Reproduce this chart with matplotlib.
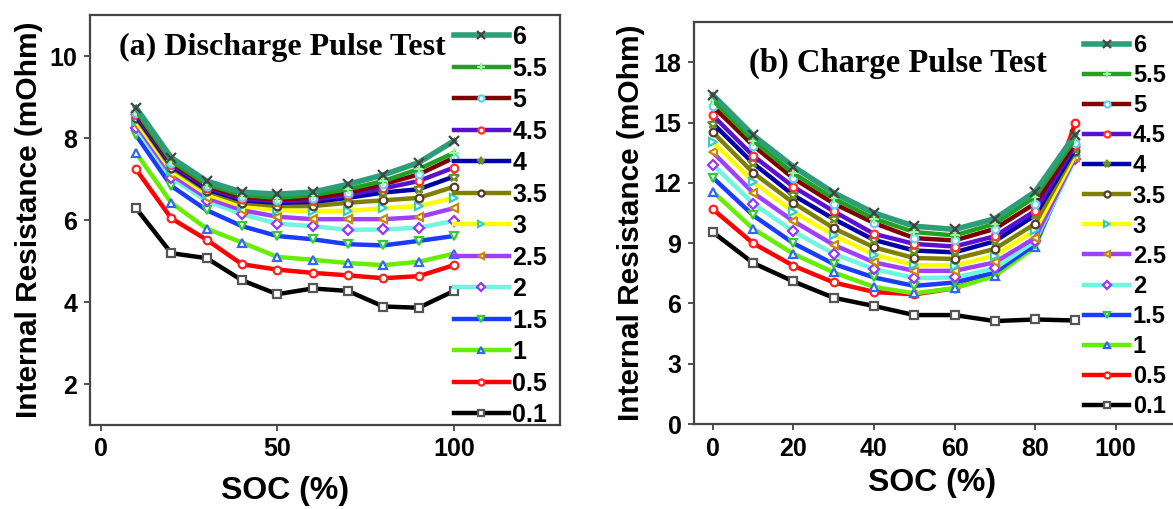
import matplotlib.pyplot as plt

plt.rcParams['font.family'] = 'Liberation Sans'
plt.rcParams['font.weight'] = 'bold'

# pulse currents (legend labels)
labels = ['0.1', '0.5', '1', '1.5', '2', '2.5', '3', '3.5', '4', '4.5', '5', '5.5', '6']

# (a) discharge pulse test
soc_a = [10, 20, 30, 40, 50, 60, 70, 80, 90, 100]
r_dis = [
    [6.29, 5.19, 5.07, 4.53, 4.19, 4.33, 4.27, 3.89, 3.86, 4.27],
    [7.24, 6.04, 5.52, 4.92, 4.79, 4.71, 4.65, 4.58, 4.63, 4.90],
    [7.64, 6.42, 5.79, 5.45, 5.10, 5.03, 4.95, 4.90, 4.98, 5.18],
    [8.07, 6.83, 6.24, 5.85, 5.61, 5.53, 5.41, 5.38, 5.49, 5.61],
    [8.25, 7.03, 6.46, 6.14, 5.91, 5.85, 5.76, 5.77, 5.81, 5.98],
    [8.33, 7.11, 6.54, 6.24, 6.08, 6.02, 6.02, 6.02, 6.07, 6.29],
    [8.41, 7.20, 6.63, 6.34, 6.24, 6.22, 6.22, 6.29, 6.34, 6.54],
    [8.50, 7.28, 6.71, 6.42, 6.34, 6.34, 6.42, 6.48, 6.54, 6.81],
    [8.54, 7.32, 6.75, 6.48, 6.42, 6.44, 6.54, 6.67, 6.75, 7.06],
    [8.58, 7.36, 6.79, 6.52, 6.46, 6.49, 6.61, 6.77, 6.95, 7.28],
    [8.62, 7.40, 6.83, 6.56, 6.50, 6.54, 6.67, 6.87, 7.11, 7.52],
    [8.67, 7.44, 6.87, 6.61, 6.54, 6.61, 6.75, 6.95, 7.24, 7.64],
    [8.74, 7.52, 6.95, 6.68, 6.63, 6.68, 6.87, 7.10, 7.40, 7.93],
]

# (b) charge pulse test
soc_b = [0, 10, 20, 30, 40, 50, 60, 70, 80, 90]
r_chg = [
    [9.54, 8.01, 7.09, 6.28, 5.87, 5.42, 5.42, 5.12, 5.20, 5.15],
    [10.68, 8.99, 7.87, 7.04, 6.57, 6.45, 6.75, 7.50, 9.10, 15.0],
    [11.55, 9.71, 8.46, 7.54, 6.82, 6.50, 6.76, 7.37, 8.80, 13.6],
    [12.25, 10.38, 8.99, 7.96, 7.29, 6.87, 7.04, 7.54, 8.93, 13.4],
    [12.90, 10.97, 9.58, 8.46, 7.71, 7.26, 7.29, 7.74, 9.10, 13.2],
    [13.51, 11.50, 10.09, 8.91, 8.04, 7.62, 7.62, 8.04, 9.26, 13.3],
    [14.03, 12.05, 10.55, 9.39, 8.42, 7.91, 7.88, 8.38, 9.63, 13.4],
    [14.51, 12.50, 11.00, 9.74, 8.79, 8.26, 8.21, 8.71, 9.96, 13.6],
    [14.95, 12.97, 11.38, 10.20, 9.16, 8.63, 8.54, 9.09, 10.38, 13.7],
    [15.35, 13.34, 11.80, 10.58, 9.46, 8.96, 8.83, 9.34, 10.60, 13.9],
    [15.80, 13.85, 12.22, 10.97, 10.00, 9.25, 9.13, 9.71, 10.97, 14.0],
    [16.10, 14.10, 12.47, 11.22, 10.22, 9.55, 9.38, 9.96, 11.30, 14.2],
    [16.36, 14.36, 12.80, 11.50, 10.50, 9.84, 9.68, 10.21, 11.55, 14.4],
]

line_colors = ['#000000', '#ff0000', '#66ee00', '#1a3cff', '#70f5e0', '#a040ff',
               '#ffff00', '#808000', '#0000aa', '#5a10d0', '#800000', '#22a022', '#2e9e78']
markers = ['s', 'o', '^', 'v', 'D', '<', '>', 'o', '*', 'o', 'o', '+', 'x']
marker_colors = ['#555555', '#ff2020', '#3366ff', '#33cc33', '#9933ff', '#cc8800',
                 '#33cccc', '#5a3a2a', '#6b8e23', '#ff3030', '#66ccff', '#99ff99', '#444444']

fig = plt.figure(figsize=(11.73, 5.09), dpi=100)
ax1 = fig.add_axes([90 / 1173, 1 - 425 / 509, 470 / 1173, 410 / 509])
ax2 = fig.add_axes([694 / 1173, 1 - 424 / 509, 486 / 1173, 402 / 509])


def draw(ax, x, data):
    for i in range(len(labels)):
        ms = 7 if markers[i] in ('x', '+', '*') else 5.5
        ax.plot(x, data[i], color=line_colors[i], lw=3.2 if i < 12 else 4,
                marker=markers[i], ms=ms, mew=1.6, mec=marker_colors[i],
                mfc='white' if markers[i] not in ('x', '+') else marker_colors[i],
                label=labels[i])
    h, l = ax.get_legend_handles_labels()
    return h[::-1], l[::-1]


for ax in (ax1, ax2):
    for s in ax.spines.values():
        s.set_color('#444444')
        s.set_linewidth(1.6)
    ax.tick_params(labelsize=18, length=4, width=1.3, color='#444444', pad=5)
    ax.set_xlabel('SOC (%)', fontsize=23, fontweight='bold')
    ax.set_ylabel('Internal Resistance (mOhm)', fontsize=21.5, fontweight='bold')

h, l = draw(ax1, soc_a, r_dis)
ax1.set_xlim(-3, 130)
ax1.set_ylim(1, 11)
ax1.set_xticks([0, 50, 100])
ax1.set_yticks([2, 4, 6, 8, 10])
ax1.text(0.41, 0.922, '(a) Discharge Pulse Test', transform=ax1.transAxes,
         ha='center', va='center', fontsize=23, fontweight='bold', family='Liberation Serif')
ax1.legend(h, l, loc='upper right', bbox_to_anchor=(1.005, 1.012), frameon=False,
           fontsize=18, handlelength=2.2, handletextpad=0.15, labelspacing=0.3,
           borderaxespad=0.2, markerscale=0.8)
ax1.yaxis.set_label_coords(-0.10, 0.5)
ax1.xaxis.set_label_coords(0.415, -0.125)

h, l = draw(ax2, soc_b, r_chg)
ax2.set_xlim(-4.7, 116)
ax2.set_ylim(0, 20)
ax2.set_xticks([0, 20, 40, 60, 80, 100])
ax2.set_yticks([0, 3, 6, 9, 12, 15, 18])
ax2.text(0.42, 0.898, '(b) Charge Pulse Test', transform=ax2.transAxes,
         ha='center', va='center', fontsize=23.5, fontweight='bold', family='Liberation Serif')
ax2.legend(h, l, loc='upper right', bbox_to_anchor=(1.0, 1.005), frameon=False,
           fontsize=17, handlelength=1.9, handletextpad=0.15, labelspacing=0.3,
           borderaxespad=0.2, markerscale=0.8)
ax2.yaxis.set_label_coords(-0.10, 0.5)
ax2.xaxis.set_label_coords(0.49, -0.11)

fig.savefig('out.png', dpi=100)
